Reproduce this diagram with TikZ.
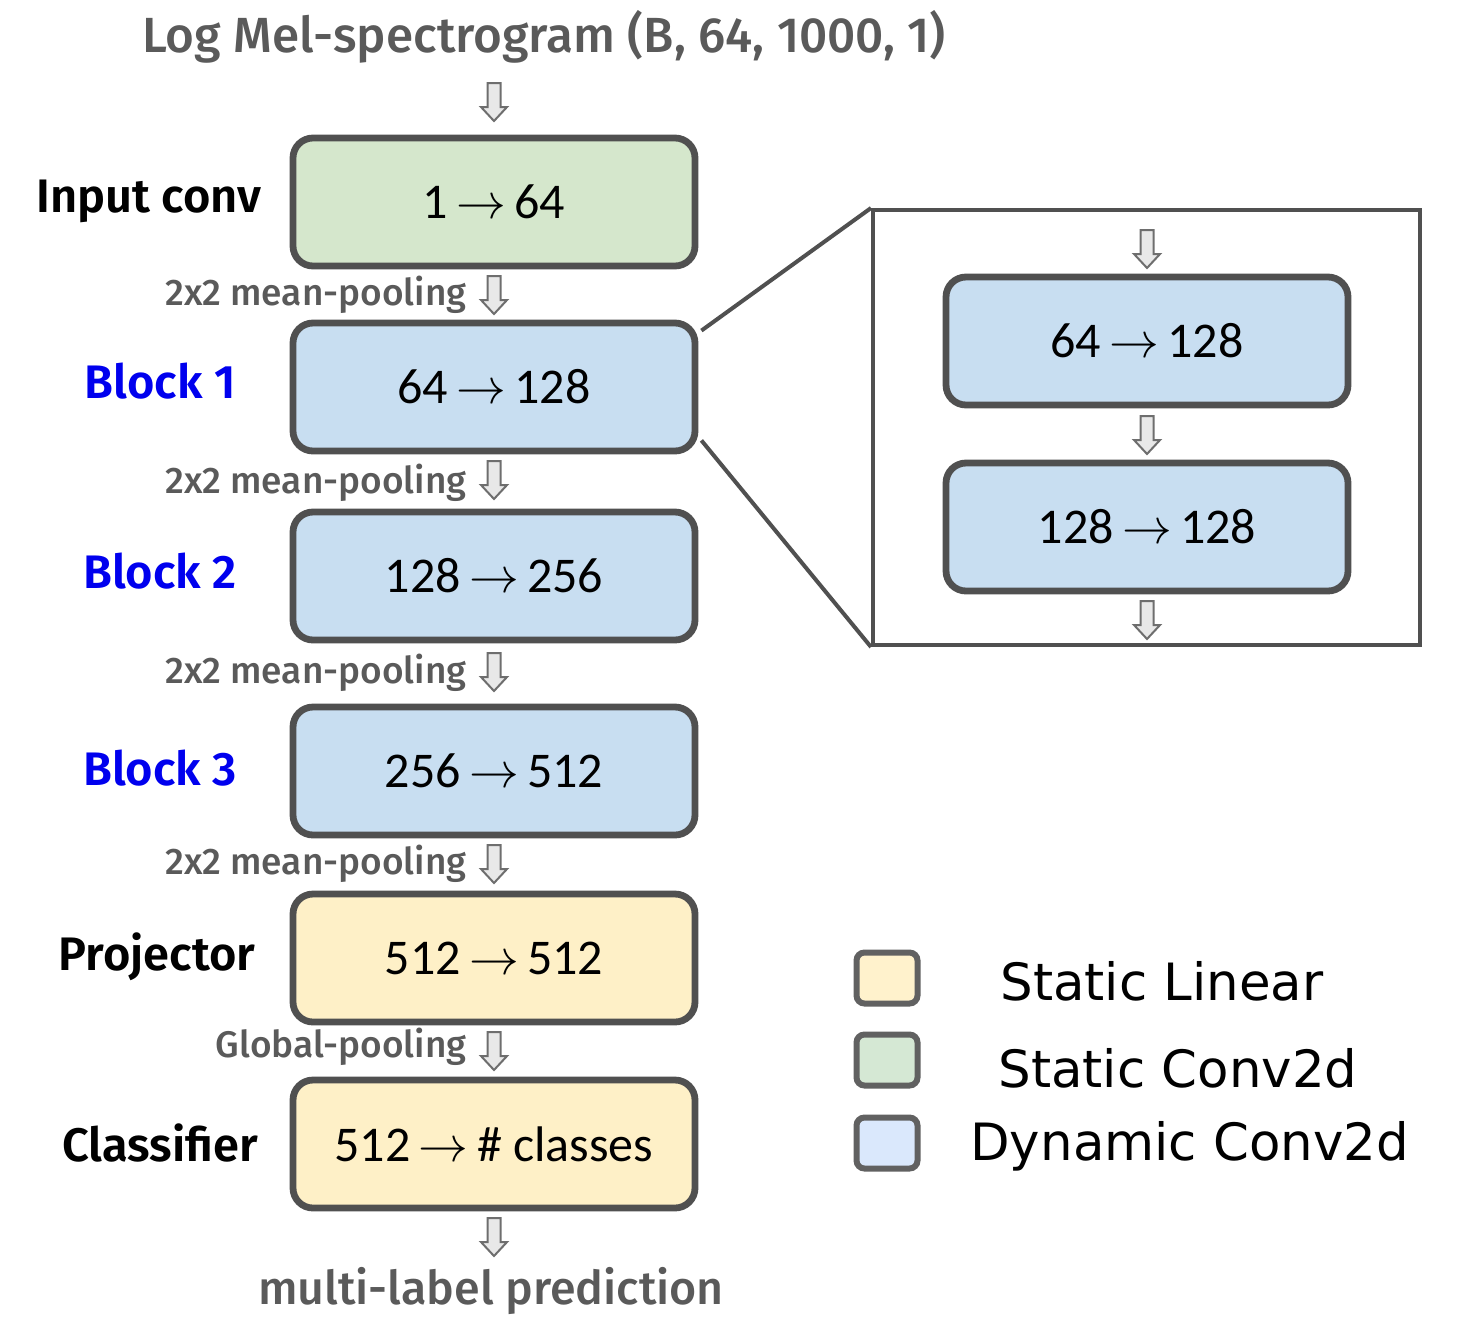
\documentclass[tikz,border=0pt]{standalone}
\usepackage{fontspec}
\setmainfont{Fira Sans}
\newfontfamily\firamed{Fira Sans Medium}
\newfontfamily\firasemi{Fira Sans SemiBold}
\newfontfamily\carlito{Carlito}
\newfontfamily\dejavu{DejaVu Sans}
\usetikzlibrary{calc}
\definecolor{bordergray}{HTML}{505050}
\definecolor{txtgray}{HTML}{5A5A5A}
\definecolor{bluefill}{HTML}{C8DEF1}
\definecolor{greenfill}{HTML}{D5E7CC}
\definecolor{yellowfill}{HTML}{FEF0C7}
\definecolor{legblue}{HTML}{DAE8FC}
\definecolor{legyellow}{HTML}{FFF2CC}
\definecolor{leggreen}{HTML}{D5E8D4}
\definecolor{arrowfill}{HTML}{E8E8E8}
\definecolor{arrowdraw}{HTML}{6E6E6E}
\definecolor{blockblue}{HTML}{0000EE}
\tikzset{
  layerbox/.style={draw=bordergray, line width=3.4pt, rounded corners=10pt,
    minimum width=201pt, minimum height=64pt, inner sep=0pt,
    font=\carlito\fontsize{25}{30}\selectfont},
  poolbox/.style={anchor=east, text=txtgray, inner sep=0pt, font=\firamed\fontsize{18.5}{22}\selectfont},
  sidelabel/.style={inner sep=0pt, font=\firasemi\fontsize{23.5}{28}\selectfont},
  graytitle/.style={inner sep=0pt, text=txtgray, font=\firamed\fontsize{24.7}{30}\selectfont},
  graybottom/.style={inner sep=0pt, text=txtgray, font=\firamed\fontsize{23.3}{28}\selectfont},
  legsq/.style={draw=bordergray!90, line width=3pt, rounded corners=4pt, minimum width=30.5pt, minimum height=25.5pt, inner sep=0pt},
  legtext/.style={anchor=west, inner sep=0pt, font=\dejavu\fontsize{25.7}{31}\selectfont},
  hdown/.pic={\draw[fill=arrowfill, draw=arrowdraw, line width=1pt, line join=miter]
     (-6.5,0) -- (6.5,0) -- (6.5,24) -- (13,24) -- (0,38) -- (-13,24) -- (-6.5,24) -- cycle;}
}
\begin{document}
\begin{tikzpicture}[x=0.5pt,y=-0.5pt]
\useasboundingbox (0,0) rectangle (1459,1328);
% title
\node[graytitle] (title) at (544,37) {Log Mel-spectrogram (B, 64, 1000, 1)};
% main boxes
\node[layerbox, fill=greenfill]  (inp)  at (494,202)  {1\,$\rightarrow$\,64};
\node[layerbox, fill=bluefill]   (b1)   at (494,387)  {64\,$\rightarrow$\,128};
\node[layerbox, fill=bluefill]   (b2)   at (494,576)  {128\,$\rightarrow$\,256};
\node[layerbox, fill=bluefill]   (b3)   at (494,771)  {256\,$\rightarrow$\,512};
\node[layerbox, fill=yellowfill] (proj) at (494,958)  {512\,$\rightarrow$\,512};
\node[layerbox, fill=yellowfill] (cls)  at (494,1144) {512\,$\rightarrow$\,\# classes};
% side labels
\node[sidelabel] (linp)  at (149,201)  {Input conv};
\node[sidelabel, text=blockblue] (lb1) at (160,381) {Block 1};
\node[sidelabel, text=blockblue] (lb2) at (160,571) {Block 2};
\node[sidelabel, text=blockblue] (lb3) at (160,768) {Block 3};
\node[sidelabel] (lproj) at (157,957)  {Projector};
\node[sidelabel] (lcls)  at (160,1143) {Classifier};
% pooling labels
\node[poolbox] (p1) at (467,295)  {2x2 mean-pooling};
\node[poolbox] (p2) at (467,483)  {2x2 mean-pooling};
\node[poolbox] (p3) at (467,673)  {2x2 mean-pooling};
\node[poolbox] (p4) at (467,864)  {2x2 mean-pooling};
\node[poolbox] (p5) at (467,1047) {Global-pooling};
% bottom label
\node[graybottom] (out) at (491,1291) {multi-label prediction};
% hollow arrows
\pic (a0) at (494,83)   {hdown};
\pic (a1) at (494,276)  {hdown};
\pic (a2) at (494,461)  {hdown};
\pic (a3) at (494,653)  {hdown};
\pic (a4) at (494,845)  {hdown};
\pic (a5) at (494,1032) {hdown};
\pic (a6) at (494,1218) {hdown};
% zoom panel
\node[draw=bordergray, line width=2pt, minimum width=273.5pt, minimum height=217.5pt, inner sep=0pt] (zoom) at (1146.5,427.5) {};
\node[layerbox, fill=bluefill] (z1) at (1147,341) {64\,$\rightarrow$\,128};
\node[layerbox, fill=bluefill] (z2) at (1147,527) {128\,$\rightarrow$\,128};
\pic (za0) at (1147,230) {hdown};
\pic (za1) at (1147,416) {hdown};
\pic (za2) at (1147,601) {hdown};
\coordinate (c1) at ($(b1.north east)+(3,11)$);
\coordinate (c2) at ($(b1.south east)+(3,-14)$);
\draw[bordergray, line width=2pt] (c1) -- (zoom.north west);
\draw[bordergray, line width=2pt] (c2) -- (zoom.south west);
% legend
\node[legsq, fill=legyellow] (sq1) at (887,978)  {};
\node[legsq, fill=leggreen]  (sq2) at (887,1060) {};
\node[legsq, fill=legblue]   (sq3) at (887,1143) {};
\node[legtext] (t1) at (1000,981)  {Static Linear};
\node[legtext] (t2) at (998,1068)  {Static Conv2d};
\node[legtext] (t3) at (970,1146)  {Dynamic Conv2d};
\end{tikzpicture}
\end{document}
